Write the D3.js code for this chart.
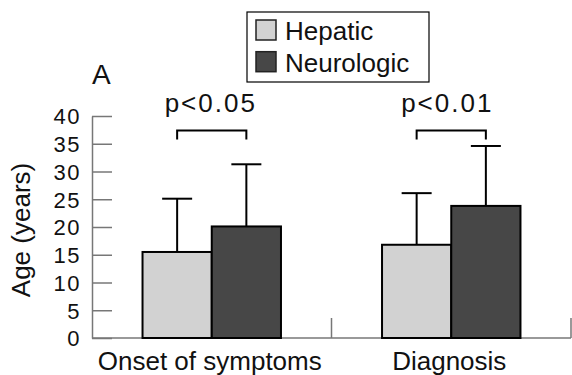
<!DOCTYPE html>
<html>
<head>
<meta charset="utf-8">
<script src="https://cdn.jsdelivr.net/npm/d3@7"></script>
<style>
body { margin:0; background:#fff; }
svg text { font-family: "Liberation Sans", Arial, sans-serif; fill:#111; }
</style>
</head>
<body>
<div id="chart"></div>
<script>
// data
var categories = ["Onset of symptoms", "Diagnosis"];
var series = ["Hepatic", "Neurologic"];
var means = [[15.5, 20.1], [16.8, 23.8]];   // [category][series]
var sdTop = [[25.1, 31.3], [26.1, 34.6]];   // end of error bar
var pLabels = ["p<0.05", "p<0.01"];
var yTicks = [0, 5, 10, 15, 20, 25, 30, 35, 40];
var colors = ["#d2d2d2", "#474747"];

var viewboxwidth = 572, viewboxheight = 375;
var margin = {top:116, bottom:37, left:92, right:1};

var svg = d3.select("#chart")
    .append("svg")
    .attr("width", viewboxwidth)
    .attr("height", viewboxheight);

var y = d3.scaleLinear()
    .domain([0,40])
    .range([viewboxheight - margin.bottom, margin.top]);

var x = d3.scaleBand()
    .domain(categories)
    .range([margin.left, viewboxwidth - margin.right])
    .padding(0);

var xSub = d3.scaleBand()
    .domain(series)
    .range([0, x.bandwidth()])
    .paddingInner(0)
    .paddingOuter(0.73);

// y axis, ticks pointing inwards
var yAxis = svg.append("g")
    .attr("transform", "translate(" + margin.left + ",0)")
    .call(d3.axisLeft(y).tickValues(yTicks).tickSize(-20).tickSizeOuter(0).tickPadding(11));
yAxis.selectAll("path, line").attr("stroke", "#777").attr("stroke-width", 1.5);
yAxis.selectAll("text")
    .attr("fill", "#111")
    .attr("dy", "0.36em")
    .style("font-size", "22px")
    .style("letter-spacing", "1.5px")
    .style("font-family", "Liberation Sans, Arial, sans-serif");

// x axis baseline + separators
var x0 = y(0);
svg.append("line")
    .attr("x1", x.range()[0]).attr("x2", x.range()[1])
    .attr("y1", x0).attr("y2", x0)
    .attr("stroke", "#777").attr("stroke-width", 1.5);
svg.selectAll(".sep")
    .data(categories)
    .enter().append("line")
    .attr("class", "sep")
    .attr("x1", function(d){ return x(d) + x.bandwidth(); })
    .attr("x2", function(d){ return x(d) + x.bandwidth(); })
    .attr("y1", x0).attr("y2", x0 - 20)
    .attr("stroke", "#777").attr("stroke-width", 1.5);

svg.selectAll(".cat")
    .data(categories)
    .enter().append("text")
    .attr("class", "cat")
    .attr("x", function(d){ return x(d) + x.bandwidth()/2 - 2; })
    .attr("y", 370)
    .attr("text-anchor", "middle")
    .style("font-size", "26px")
    .text(function(d){ return d; });

// bars
var groups = svg.selectAll(".grp")
    .data(categories)
    .enter().append("g")
    .attr("class", "grp")
    .attr("transform", function(d){ return "translate(" + x(d) + ",0)"; });

groups.each(function(cat, ci) {
    var g = d3.select(this);
    var rows = series.map(function(s, si){ return {s:s, si:si, v:means[ci][si], e:sdTop[ci][si]}; });

    // error bars (drawn before bars)
    rows.forEach(function(r) {
        var cx = xSub(r.s) + xSub.bandwidth()/2;
        g.append("line").attr("x1", cx).attr("x2", cx)
            .attr("y1", y(r.v)).attr("y2", y(r.e))
            .attr("stroke", "#000").attr("stroke-width", 2);
        g.append("line").attr("x1", cx - 15).attr("x2", cx + 15)
            .attr("y1", y(r.e)).attr("y2", y(r.e))
            .attr("stroke", "#000").attr("stroke-width", 2);
    });

    g.selectAll("rect")
        .data(rows)
        .enter().append("rect")
        .attr("x", function(r){ return xSub(r.s); })
        .attr("width", xSub.bandwidth())
        .attr("y", function(r){ return y(r.v); })
        .attr("height", function(r){ return y(0) - y(r.v); })
        .attr("fill", function(r){ return colors[r.si]; })
        .attr("stroke", "#000")
        .attr("stroke-width", 2);

    // significance bracket
    var bx1 = xSub(series[0]) + xSub.bandwidth()/2;
    var bx2 = xSub(series[1]) + xSub.bandwidth()/2;
    var by = y(37.4);
    g.append("path")
        .attr("d", "M" + bx1 + "," + (by + 9) + "V" + by + "H" + bx2 + "V" + (by + 9))
        .attr("fill", "none").attr("stroke", "#000").attr("stroke-width", 2);
    g.append("text")
        .attr("x", (bx1 + bx2)/2 - 1 - ci * 3)
        .attr("y", y(40.8))
        .attr("text-anchor", "middle")
        .style("font-size", "26px")
        .style("letter-spacing", "2px")
        .text(pLabels[ci]);
});

// y label
svg.append("text")
    .attr("transform", "translate(30," + ((y(0) + y(40))/2 + 3) + ") rotate(-90)")
    .attr("text-anchor", "middle")
    .style("font-size", "26px")
    .text("Age (years)");

// panel letter
svg.append("text")
    .attr("x", 92)
    .attr("y", 84)
    .style("font-size", "28px")
    .text("A");

// legend
var legend = svg.append("g").attr("transform", "translate(247,12)");
legend.append("rect")
    .attr("width", 182).attr("height", 70)
    .attr("fill", "#fff").attr("stroke", "#000").attr("stroke-width", 1.2);
var items = legend.selectAll(".item")
    .data(series)
    .enter().append("g")
    .attr("class", "item")
    .attr("transform", function(d, i){ return "translate(9," + (8 + i*31.7) + ")"; });
items.append("rect")
    .attr("width", 20).attr("height", 20)
    .attr("fill", function(d, i){ return colors[i]; })
    .attr("stroke", "#222").attr("stroke-width", 1.5);
items.append("text")
    .attr("x", 29).attr("y", 20)
    .style("font-size", "26px")
    .text(function(d){ return d; });
</script>
</body>
</html>
